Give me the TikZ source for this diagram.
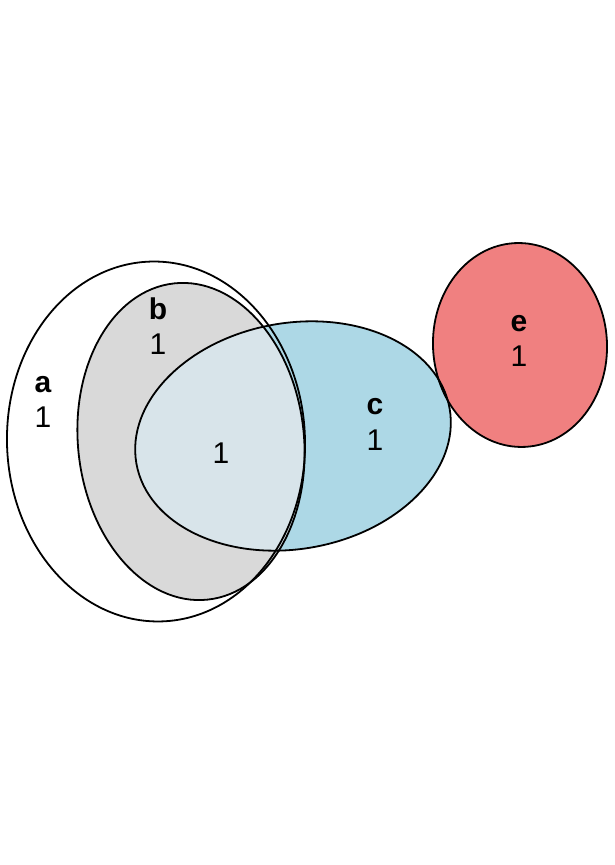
\documentclass[tikz,border=0pt]{standalone}
\usepackage{fontspec}
\setmainfont{Liberation Sans}
\definecolor{setgray}{HTML}{D9D9D9}
\definecolor{setblue}{HTML}{ADD8E6}
\definecolor{setmix}{HTML}{D8E4EA}
\definecolor{setred}{HTML}{F08080}
\tikzset{
  outline/.style={draw=black, line width=1.8pt},
  setname/.style={anchor=base, inner sep=0pt, font=\fontsize{30}{35}\selectfont\bfseries},
  setcount/.style={anchor=base, inner sep=0pt, font=\fontsize{30}{35}\selectfont},
}
\begin{document}
\begin{tikzpicture}[x=1pt,y=1pt]
\useasboundingbox[fill=white] (0,0) rectangle (614,865);
% fills
\fill[white, rotate around={2:(156,423.5)}] (156,423.5) ellipse [x radius=149, y radius=180];
\fill[setgray, rotate around={6:(191,423.5)}] (191,423.5) ellipse [x radius=113, y radius=159];
\fill[setblue, rotate around={10:(293,429)}] (293,429) ellipse [x radius=159, y radius=113];
\begin{scope}
  \clip[rotate around={6:(191,423.5)}] (191,423.5) ellipse [x radius=113, y radius=159];
  \fill[setmix, rotate around={10:(293,429)}] (293,429) ellipse [x radius=159, y radius=113];
\end{scope}
\fill[setred, rotate around={3:(520,520)}] (520,520) ellipse [x radius=87, y radius=102];
% outlines
\draw[outline, rotate around={2:(156,423.5)}] (156,423.5) ellipse [x radius=149, y radius=180];
\draw[outline, rotate around={6:(191,423.5)}] (191,423.5) ellipse [x radius=113, y radius=159];
\draw[outline, rotate around={10:(293,429)}] (293,429) ellipse [x radius=159, y radius=113];
\draw[outline, rotate around={3:(520,520)}] (520,520) ellipse [x radius=87, y radius=102];
% labels
\node[setname] (la) at (43,472) {a};
\node[setcount] (na) at (43,437) {1};
\node[setname] (lb) at (158,545) {b};
\node[setcount] (nb) at (158,510) {1};
\node[setcount] (nbc) at (221,401) {1};
\node[setname] (lc) at (375,450) {c};
\node[setcount] (nc) at (375,414) {1};
\node[setname] (le) at (519,533) {e};
\node[setcount] (ne) at (519,498) {1};
\end{tikzpicture}
\end{document}
